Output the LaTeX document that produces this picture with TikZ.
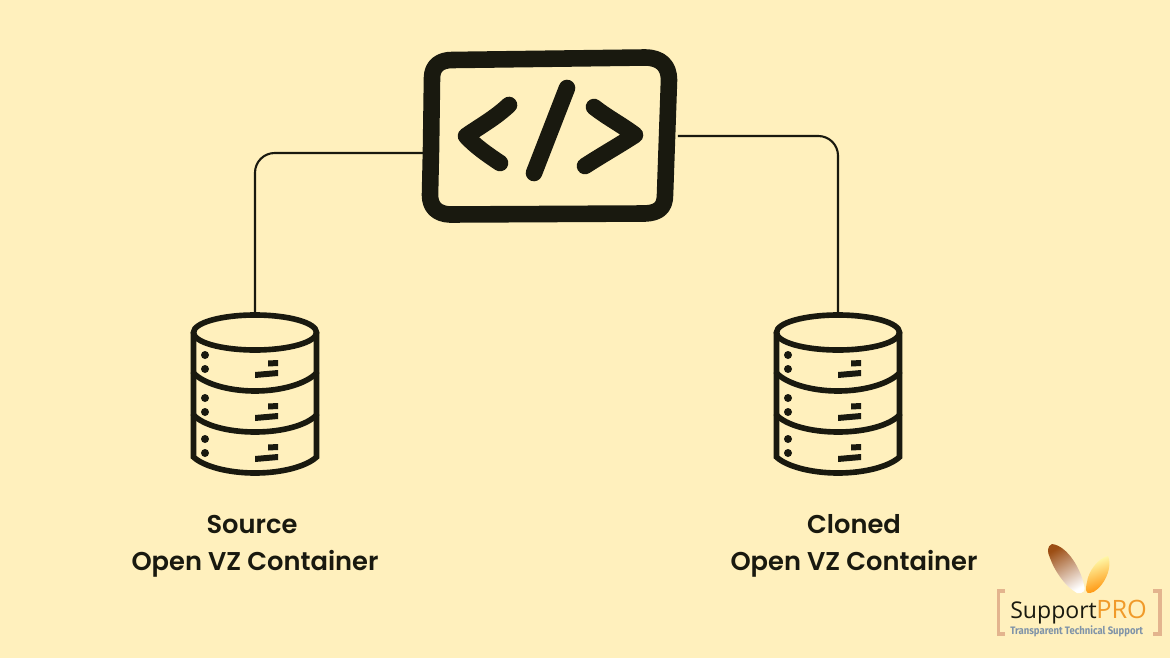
\documentclass[tikz,border=0pt]{standalone}
\usepackage{fontspec}
\setmainfont{Poppins}[BoldFont={Poppins SemiBold}]
\newfontfamily\logofont{Open Sans}
\newfontfamily\tagfont{Fira Sans}
\usetikzlibrary{positioning}

\definecolor{paper}{HTML}{FFF0BD}
\definecolor{ink}{HTML}{19190F}
\definecolor{logobracket}{HTML}{E3B48E}
\definecolor{logoorange}{HTML}{F09A2A}
\definecolor{logoblue}{HTML}{7F93A8}
\definecolor{logobrown}{HTML}{9C4E14}

\tikzset{
	wire/.style={draw=ink,line width=1.5pt,rounded corners=14pt},
	iconline/.style={draw=ink,line width=11.8pt,line cap=round,line join=round},
	dbline/.style={draw=ink,line width=4pt,line cap=round},
	hole/.style={fill=ink,draw=none},
	caption/.style={font=\bfseries\fontsize{18.3}{20}\selectfont,text=ink,inner sep=0pt},
	anchorbox/.style={inner sep=0pt,minimum width=6.35cm,minimum height=4.35cm},
	anchordb/.style={inner sep=0pt,minimum width=3.2cm,minimum height=4cm}
}

\begin{document}
\begin{tikzpicture}[x=0.025cm,y=-0.025cm]

	\useasboundingbox[fill=paper] (0,0) rectangle (1170,658);

	% code icon
	\node[anchorbox] (codebox) at (550.5,136) {};
	\path[iconline] (432,78) .. controls (432,66) and (440,60) .. (452,60)
		-- (645,57.5) .. controls (661,57.5) and (669,66) .. (669,80)
		-- (665,195) .. controls (665,208) and (658,213) .. (645,213.5)
		-- (450,214.5) .. controls (437,214) and (430,207) .. (430,195)
		-- (431,150) -- cycle;
	\path[iconline] (509,105) .. controls (495,118) and (482,125) .. (466,136)
		.. controls (475,146) and (488,155) .. (500,163);
	\path[iconline] (567,88) -- (534,173);
	\path[iconline] (594,107) .. controls (608,118) and (622,125) .. (635,135)
		.. controls (618,146) and (602,155) .. (585,166);

	% database stacks
	\foreach \name/\px in {srcdb/255,clonedb/838}{
		\begin{scope}[shift={(\px,0)}]
			\node[anchordb] (\name) at (0,394) {};
			\path[dbline] (0,332.5) ellipse [x radius=61.5,y radius=17.5];
			\path[dbline] (-61.5,332.5) -- (-61.5,457)
				.. controls (-52,466) and (-28,473) .. (0,473)
				.. controls (28,473) and (52,466) .. (61.5,457) -- (61.5,332.5);
			\foreach \ya/\yb in {373/391,415/432}{
				\path[dbline] (-61.5,\ya) .. controls (-52,\ya+10) and (-28,\yb) .. (0,\yb)
					.. controls (28,\yb) and (52,\ya+10) .. (61.5,\ya);
			}
			% holes and slots
			\foreach \ya in {355,398,439}{
				\fill[hole] (-50,\ya) circle (4);
				\fill[hole] (-50,\ya+14) circle (4);
				\fill[hole] (13,\ya+5.5) -- (23,\ya+5) -- (23,\ya+11) -- (13,\ya+11.5) -- cycle;
				\fill[hole] (0,\ya+17) -- (23,\ya+15) -- (23,\ya+21) -- (0,\ya+23) -- cycle;
			}
		\end{scope}
	}

	% wires
	\draw[wire] (codebox.west |- 0,153) -| (srcdb.north);
	\draw[wire] (codebox.east) -| (clonedb.north);

	% captions
	\node[caption] (srctop) at (252,524) {Source};
	\node[caption] (srcbot) at (255,564) {Open VZ Container};
	\node[caption] (clonetop) at (854,524) {Cloned};
	\node[caption] (clonebot) at (854,564) {Open VZ Container};

	% logo
	\shade[left color=logobrown,right color=white,shading angle=30]
		(1052,544) .. controls (1047,546) and (1047,552) .. (1050,558)
		.. controls (1055,572) and (1066,587) .. (1077,593)
		.. controls (1084,594) and (1086,590) .. (1084,585)
		.. controls (1081,570) and (1068,546) .. (1052,544) -- cycle;
	\shade[left color=yellow!30,right color=orange!90!yellow,shading angle=20]
		(1108,556) .. controls (1098,558) and (1088,572) .. (1087,582)
		.. controls (1085,590) and (1086,594) .. (1090,593)
		.. controls (1100,592) and (1114,570) .. (1108,556) -- cycle;
	\draw[logobracket,line width=2.2pt] (1005,591) -- (998.5,591) -- (998.5,634) -- (1005,634);
	\draw[logobracket,line width=2.2pt] (1153,591) -- (1160,591) -- (1160,634) -- (1153,634);
	\node[inner sep=0pt,anchor=base west,text=ink,font=\logofont\fontsize{16.4}{20}\selectfont] (logoname) at (1010,618) {Support};
	\node[inner sep=0pt,anchor=base west,text=logoorange,font=\logofont\fontsize{18}{20}\selectfont] (logopro) at (1096,618) {PRO};
	\node[inner sep=0pt,anchor=base west,text=logoblue,xscale=0.88,font=\tagfont\bfseries\fontsize{7.7}{8}\selectfont] (logotag) at (1010,634.5)
		{Transparent Technical Support};

\end{tikzpicture}
\end{document}
